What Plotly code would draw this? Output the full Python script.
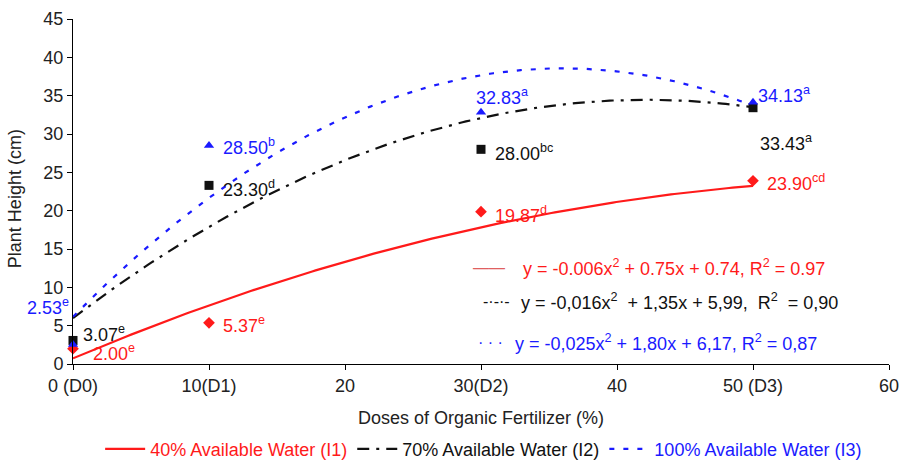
import numpy as np
import plotly.graph_objects as go

# ---------------- data ----------------
doses = [0, 10, 30, 50]
tick_vals = [0, 10, 20, 30, 40, 50, 60]
tick_text = ["0 (D0)", "10(D1)", "20", "30(D2)", "40", "50 (D3)", "60"]

series_names = ["40% Available Water (I1)", "70% Available Water (I2)", "100% Available Water (I3)"]
vals_i1 = [2.00, 5.37, 19.87, 23.90]
vals_i2 = [3.07, 23.30, 28.00, 33.43]
vals_i3 = [2.53, 28.50, 32.83, 34.13]
letters_i1 = ["e", "e", "d", "cd"]
letters_i2 = ["e", "d", "bc", "a"]
letters_i3 = ["e", "b", "a", "a"]

# trend line coefficients (a, b, c) for y = a x^2 + b x + c
coef_i1 = [-0.006, 0.75, 0.74]
coef_i2 = [-0.016, 1.35, 5.99]
coef_i3 = [-0.025, 1.80, 6.17]
eq_texts = [
    "y = -0.006x<sup>2</sup> + 0.75x + 0.74, R<sup>2</sup> = 0.97",
    "y = -0,016x<sup>2</sup>  + 1,35x + 5,99,  R<sup>2</sup>  = 0,90",
    "y = -0,025x<sup>2</sup> + 1,80x + 6,17, R<sup>2</sup> = 0,87",
]
x_title = "Doses of Organic Fertilizer (%)"
y_title = "Plant Height (cm)"

# ---------------- styles ----------------
colors = ["#ff1a1a", "#111111", "#1a1aff"]
dashes = ["solid", "12px,7px,3px,7px", "5px,9px"]
symbols = ["diamond", "square", "triangle-up"]
FONT = "Liberation Sans, Arial, sans-serif"
FS = 18

# label offsets in pixels (xshift, yshift, xanchor)
offs_i1 = [(18, -4, "left"), (12, -2, "left"), (12, -3, "left"), (12, -2, "left")]
offs_i2 = [(8, 7, "left"), (12, -3, "left"), (12, -3, "left"), (5, -35, "left")]
offs_i3 = [(-2, 38, "right"), (12, -1, "left"), (-7, 16, "left"), (3, 8, "left")]

fig = go.Figure()
xs = np.linspace(0, 50, 200)
all_vals = [vals_i1, vals_i2, vals_i3]
all_coef = [coef_i1, coef_i2, coef_i3]
all_letters = [letters_i1, letters_i2, letters_i3]
all_offs = [offs_i1, offs_i2, offs_i3]

for i in range(3):
    a, b, c = all_coef[i]
    ys = a * xs ** 2 + b * xs + c
    fig.add_trace(go.Scatter(
        x=xs, y=ys, mode="lines",
        line=dict(color=colors[i], width=2.2, dash=dashes[i]),
        name=f"<span style='color:{colors[i]}'>{series_names[i]}</span>",
        showlegend=True, cliponaxis=False, hoverinfo="skip"))
for i in range(3):
    fig.add_trace(go.Scatter(
        x=doses, y=all_vals[i], mode="markers",
        marker=dict(symbol=symbols[i], color=colors[i], size=9),
        showlegend=False, cliponaxis=False))
    for xv, yv, let, (dx, dy, anc) in zip(doses, all_vals[i], all_letters[i], all_offs[i]):
        fig.add_annotation(x=xv, y=yv, xref="x", yref="y",
                           text=f"{yv:.2f}<sup>{let}</sup>", showarrow=False,
                           xanchor=anc, yanchor="middle", xshift=dx, yshift=dy,
                           font=dict(family=FONT, size=FS, color=colors[i]))

# equation annotations with line samples
samples = ["<span style='color:#e06060'>——</span>", "-·-·-", "· · ·"]
eq_y = [0.281, 0.180, 0.061]
sample_x = [0.488, 0.500, 0.494]
eq_x = [0.549, 0.546, 0.539]
for i in range(3):
    fig.add_annotation(x=sample_x[i], y=eq_y[i], xref="paper", yref="paper",
                       text=samples[i], showarrow=False, xanchor="left", yanchor="middle",
                       font=dict(family=FONT, size=16, color=colors[i]))
    fig.add_annotation(x=eq_x[i], y=eq_y[i], xref="paper", yref="paper",
                       text=eq_texts[i], showarrow=False, xanchor="left", yanchor="middle",
                       font=dict(family=FONT, size=FS, color=colors[i]))

# axis titles
fig.add_annotation(x=0.5, y=-0.157, xref="paper", yref="paper", text=x_title,
                   showarrow=False, xanchor="center", yanchor="middle",
                   font=dict(family=FONT, size=FS, color="#222222"))
fig.add_annotation(x=-0.071, y=0.478, xref="paper", yref="paper", text=y_title,
                   showarrow=False, xanchor="center", yanchor="middle", textangle=-90,
                   font=dict(family=FONT, size=FS, color="#222222"))

fig.update_layout(
    width=904, height=463,
    margin=dict(l=73, r=15, t=19, b=99, autoexpand=False),
    paper_bgcolor="white", plot_bgcolor="white",
    font=dict(family=FONT, size=FS, color="#222222"),
    showlegend=True,
    legend=dict(orientation="h", x=0.535, xanchor="center", xref="container",
                y=0.03, yanchor="middle", yref="container",
                font=dict(family=FONT, size=FS), itemwidth=40,
                bgcolor="rgba(0,0,0,0)", tracegroupgap=0),
    xaxis=dict(range=[0, 60], tickvals=tick_vals, ticktext=tick_text,
               showline=True, linecolor="black", linewidth=1, showgrid=False, zeroline=False,
               ticks="outside", ticklen=5, tickcolor="black", automargin=False),
    yaxis=dict(range=[0, 45], dtick=5,
               showline=True, linecolor="black", linewidth=1, showgrid=False, zeroline=False,
               ticks="outside", ticklen=5, tickcolor="black", automargin=False),
)

fig.write_html("out.html")
